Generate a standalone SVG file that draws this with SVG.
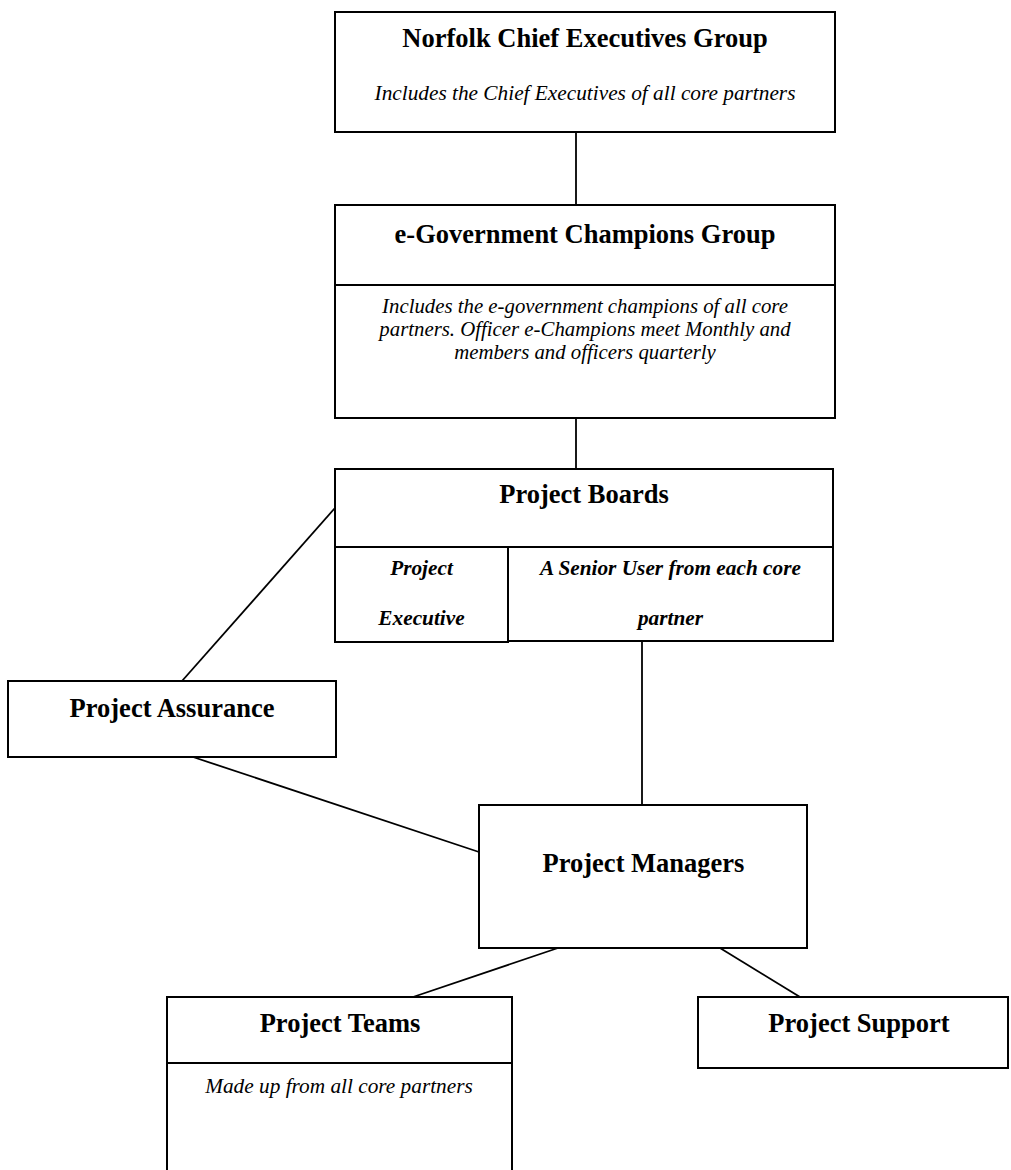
<svg xmlns="http://www.w3.org/2000/svg" width="1011" height="1170" viewBox="0 0 1011 1170">
<style>
.box{fill:#fff;stroke:#000;stroke-width:2}
.ln{stroke:#000;stroke-width:1.8;fill:none}
.h{font-family:"Liberation Serif","Times New Roman",serif;font-weight:bold;font-size:26.5px;text-anchor:middle;fill:#000}
.i{font-family:"Liberation Serif","Times New Roman",serif;font-style:italic;font-size:21.3px;text-anchor:middle;fill:#000}
.i2{font-size:20.8px}
.bi{font-family:"Liberation Serif","Times New Roman",serif;font-style:italic;font-weight:bold;font-size:21.3px;text-anchor:middle;fill:#000}
</style>
<rect width="1011" height="1170" fill="#fff"/>
<g id="connectors">
<line class="ln" x1="576" y1="132" x2="576" y2="205"/>
<line class="ln" x1="576" y1="418" x2="576" y2="469"/>
<line class="ln" x1="335" y1="508" x2="182" y2="681"/>
<line class="ln" x1="193" y1="757" x2="479" y2="852"/>
<line class="ln" x1="642" y1="642" x2="642" y2="805"/>
<line class="ln" x1="558" y1="948" x2="413" y2="997"/>
<line class="ln" x1="720" y1="948" x2="800" y2="997"/>
</g>
<g id="norfolk">
<rect class="box" x="335" y="12" width="500" height="120"/>
<text class="h" x="585" y="47">Norfolk Chief Executives Group</text>
<text class="i" x="585" y="100">Includes the Chief Executives of all core partners</text>
</g>
<g id="egov">
<rect class="box" x="335" y="205" width="500" height="213"/>
<line class="ln" x1="335" y1="285" x2="835" y2="285"/>
<text class="h" x="585" y="243">e-Government Champions Group</text>
<text class="i i2" x="585" y="313">Includes the e-government champions of all core</text>
<text class="i i2" x="585" y="336">partners. Officer e-Champions meet Monthly and</text>
<text class="i i2" x="585" y="359">members and officers quarterly</text>
</g>
<g id="boards">
<rect class="box" x="335" y="469" width="498" height="78"/>
<text class="h" x="584" y="503">Project Boards</text>
<rect class="box" x="335" y="547" width="173" height="95"/>
<text class="bi" x="421.5" y="575">Project</text>
<text class="bi" x="421.5" y="625">Executive</text>
<rect class="box" x="508" y="547" width="325" height="94"/>
<text class="bi" x="670.5" y="575">A Senior User from each core</text>
<text class="bi" x="670.5" y="625">partner</text>
</g>
<g id="assurance">
<rect class="box" x="8" y="681" width="328" height="76"/>
<text class="h" x="172" y="717">Project Assurance</text>
</g>
<g id="managers">
<rect class="box" x="479" y="805" width="328" height="143"/>
<text class="h" x="643.5" y="872">Project Managers</text>
</g>
<g id="teams">
<path class="box" d="M167 1172 V997 H512 V1172"/>
<line class="ln" x1="167" y1="1063" x2="512" y2="1063"/>
<text class="h" x="340" y="1032">Project Teams</text>
<text class="i" x="339" y="1093">Made up from all core partners</text>
</g>
<g id="support">
<rect class="box" x="698" y="997" width="310" height="71"/>
<text class="h" x="859" y="1032">Project Support</text>
</g>
</svg>
